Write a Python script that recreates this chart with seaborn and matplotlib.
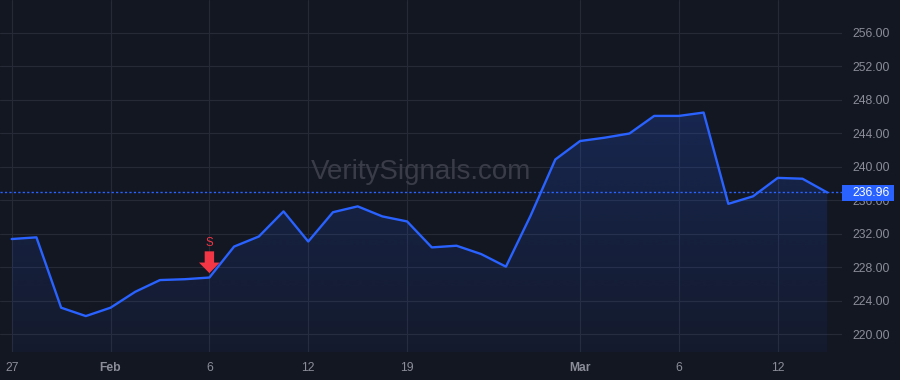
import numpy as np
import pandas as pd
import matplotlib
matplotlib.use("Agg")
import matplotlib.pyplot as plt
import seaborn as sns
from matplotlib.patches import Polygon, Rectangle, PathPatch
from matplotlib.transforms import ScaledTranslation, blended_transform_factory

# ---------------- data ----------------
dates = [
    "2026-01-27", "2026-01-28", "2026-01-29", "2026-01-30",
    "2026-02-02", "2026-02-03", "2026-02-04", "2026-02-05", "2026-02-06",
    "2026-02-09", "2026-02-10", "2026-02-11", "2026-02-12", "2026-02-13",
    "2026-02-17", "2026-02-18", "2026-02-19", "2026-02-20",
    "2026-02-23", "2026-02-24", "2026-02-25", "2026-02-26", "2026-02-27",
    "2026-03-02", "2026-03-03", "2026-03-04", "2026-03-05", "2026-03-06",
    "2026-03-09", "2026-03-10", "2026-03-11", "2026-03-12", "2026-03-13",
    "2026-03-16",
]
prices = [
    231.4, 231.6, 223.2, 222.2,
    223.2, 225.1, 226.5, 226.6, 226.8,
    230.5, 231.7, 234.7, 231.1, 234.6,
    235.3, 234.1, 233.5, 230.4,
    230.6, 229.6, 228.1, 234.2, 240.9,
    243.1, 243.5, 244.0, 246.1, 246.1,
    246.5, 235.6, 236.5, 238.7, 238.6,
    236.96,
]
tick_dates = ["2026-01-27", "2026-02-02", "2026-02-06", "2026-02-12",
              "2026-02-19", "2026-03-02", "2026-03-06", "2026-03-12"]
tick_labels = ["27", "Feb", "6", "12", "19", "Mar", "6", "12"]
month_labels = ["Feb", "Mar"]
y_ticks = [220, 224, 228, 232, 236, 240, 244, 248, 252, 256]
signal_date = "2026-02-06"
signal_text = "S"
last_price = prices[-1]
watermark = "VeritySignals.com"

# ---------------- style ----------------
BG = "#131722"
GRID = "#262a36"
TXT = "#8b8e98"
BLUE = "#2962FF"
RED = "#F23645"

sns.set_theme(style="dark")
plt.rcParams["font.family"] = ["Liberation Sans", "DejaVu Sans"]

df = pd.DataFrame({"idx": np.arange(len(dates)), "date": dates, "price": prices})

fig = plt.figure(figsize=(9, 3.8), dpi=100, facecolor=BG)
ax = fig.add_axes([0, 28 / 380, 842 / 900, 352 / 380])
ax.set_facecolor(BG)

y_lo, y_hi = 217.91, 259.94
x_lo, x_hi = -0.474, 33.6

# gradient area fill
fb = ax.fill_between(df["idx"], df["price"], y_lo, color="none", linewidth=0)
clip = PathPatch(fb.get_paths()[0], transform=ax.transData,
                 facecolor="none", edgecolor="none")
ax.add_patch(clip)
n = 256
grad = np.zeros((n, 1, 4))
rgb = matplotlib.colors.to_rgb(BLUE)
grad[..., 0], grad[..., 1], grad[..., 2] = rgb
grad[:, 0, 3] = np.linspace(0.05, 0.21, n)
im = ax.imshow(grad, extent=[df["idx"].min(), df["idx"].max(), y_lo, max(prices)],
               origin="lower", aspect="auto", zorder=1, interpolation="bilinear")
im.set_clip_path(clip)

# line
sns.lineplot(data=df, x="idx", y="price", color=BLUE, linewidth=1.7, ax=ax, zorder=3)

# last price dotted line
ax.axhline(last_price, color=BLUE, linewidth=1.0, linestyle=(0, (1.6, 1.6)), zorder=2)

ax.set_xlim(x_lo, x_hi)
ax.set_ylim(y_lo, y_hi)

# grid
tick_pos = [dates.index(d) for d in tick_dates]
ax.set_xticks(tick_pos)
ax.set_xticklabels(tick_labels)
for lbl in ax.get_xticklabels():
    if lbl.get_text() in month_labels:
        lbl.set_fontweight("bold")
ax.set_yticks(y_ticks)
ax.set_yticklabels([f"{v:.2f}" for v in y_ticks])
ax.yaxis.tick_right()
ax.tick_params(axis="both", length=0, colors=TXT, labelsize=8.7)
ax.tick_params(axis="y", pad=7.2)
ax.tick_params(axis="x", pad=7.0)
ax.grid(True, color=GRID, linewidth=0.8)
ax.set_axisbelow(True)
for s in ax.spines.values():
    s.set_visible(False)
ax.set_xlabel("")
ax.set_ylabel("")

# last price label box
bt = blended_transform_factory(ax.transAxes, ax.transData)
box_h = 16 / 8.375
ax.add_patch(Rectangle((1.0, last_price - box_h / 2 - 0.04), 52 / 842, box_h,
                       transform=bt, facecolor=BLUE, edgecolor="none",
                       clip_on=False, zorder=10))
ax.text(1.0 + 10 / 842, last_price - 0.04, f"{last_price:.2f}", transform=bt,
        color="white", fontsize=8.7, va="center", ha="left", zorder=11, clip_on=False)

# signal arrow
si = dates.index(signal_date)
sp = prices[si]
tr = fig.dpi_scale_trans + ScaledTranslation(si, sp, ax.transData)
arrow = [(0, 0.044), (-0.104, 0.150), (-0.047, 0.150), (-0.047, 0.262),
         (0.047, 0.262), (0.047, 0.150), (0.104, 0.150)]
ax.add_patch(Polygon(arrow, closed=True, transform=tr, facecolor=RED,
                     edgecolor="none", zorder=6))
ax.text(0, 0.35, signal_text, transform=tr, color=RED, fontsize=8.3,
        ha="center", va="center", zorder=6)

# watermark
fig.text(421 / 900, 1 - 172 / 380, watermark, color="#3a3d48", fontsize=20,
         ha="center", va="center", zorder=0)

fig.savefig("out.png", dpi=100, facecolor=BG)
